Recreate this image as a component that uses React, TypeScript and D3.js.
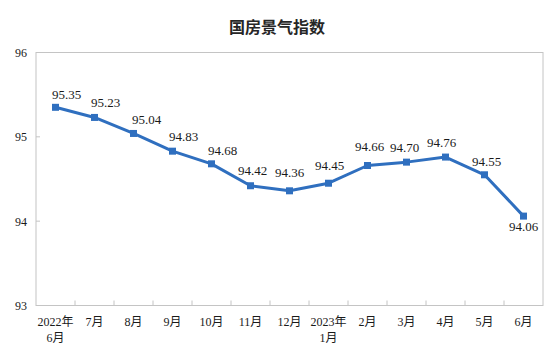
import React from "react";
import * as d3 from "d3";

const categories = ["2022年|6月", "7月", "8月", "9月", "10月", "11月", "12月", "2023年|1月", "2月", "3月", "4月", "5月", "6月"];
const values = [95.35, 95.23, 95.04, 94.83, 94.68, 94.42, 94.36, 94.45, 94.66, 94.7, 94.76, 94.55, 94.06];
const valueLabels = ["95.35", "95.23", "95.04", "94.83", "94.68", "94.42", "94.36", "94.45", "94.66", "94.70", "94.76", "94.55", "94.06"];
const yTicks = [93, 94, 95, 96];
const title = "国房景气指数";

// label nudges (dx, dy of baseline relative to point)
const labelNudges: [number, number][] = [
  [11, -8], [11, -10], [13, -9], [11, -10], [11, -9], [2, -11], [0, -14],
  [1, -13], [2, -15], [-2, -10], [-4, -10], [2, -9], [0, 15],
];

const W = 556;
const H = 360;
const left = 36;
const right = 543;
const top = 52.5;
const bottom = 305.5;
const serif = "'Liberation Serif', 'Times New Roman', 'Noto Sans CJK SC', serif";
const color = "#2f6fbf";

export default function App() {
  const x = d3.scaleBand<string>().domain(categories).range([left, right]).padding(0);
  const y = d3.scaleLinear().domain([93, 96]).range([bottom, top]);
  const cx = (i: number) => (x(categories[i]) as number) + x.bandwidth() / 2;
  const line = d3
    .line<number>()
    .x((_, i) => cx(i))
    .y((d) => y(d));

  return (
    <svg width={W} height={H} style={{ position: "absolute", left: 0, top: 0, background: "#fff" }}>
      <rect x={0} y={0} width={W} height={H} fill="#fff" />
      <text x={277} y={33} textAnchor="middle" fontSize={16} fontWeight="bold" fill="#262626"
        fontFamily="'Noto Sans CJK SC', sans-serif">{title}</text>
      <rect x={left} y={top} width={right - left} height={bottom - top} fill="none" stroke="#c4c4c4" strokeWidth={1} />
      {yTicks.map((t) => (
        <g key={t}>
          <line x1={left} x2={left + 4} y1={y(t)} y2={y(t)} stroke="#c4c4c4" />
          <text x={27} y={y(t) + 4.5} textAnchor="end" fontSize={12} fontFamily={serif} fill="#1a1a1a">{t}</text>
        </g>
      ))}
      {categories.slice(1).map((c) => (
        <line key={c} x1={x(c) as number} x2={x(c) as number} y1={bottom} y2={bottom - 5} stroke="#c4c4c4" />
      ))}
      {categories.map((c, i) => {
        const parts = c.split("|");
        return (
          <text key={c} textAnchor="middle" fontSize={12} fontFamily={serif} fill="#1a1a1a">
            {parts.map((p, j) => (
              <tspan key={j} x={cx(i)} y={326 + j * 16}>{p}</tspan>
            ))}
          </text>
        );
      })}
      <path d={line(values) || ""} fill="none" stroke={color} strokeWidth={3} strokeLinejoin="round" />
      {values.map((v, i) => (
        <rect key={i} x={cx(i) - 3.5} y={y(v) - 3.5} width={7} height={7} fill={color} />
      ))}
      {values.map((v, i) => (
        <text key={i} x={cx(i) + labelNudges[i][0]} y={y(v) + labelNudges[i][1]} textAnchor="middle"
          fontSize={13} fontFamily={serif} fill="#1a1a1a">{valueLabels[i]}</text>
      ))}
    </svg>
  );
}
